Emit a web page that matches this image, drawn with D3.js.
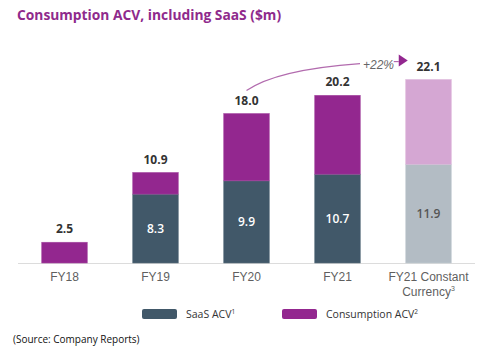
<!DOCTYPE html>
<html>
<head>
<meta charset="utf-8">
<script src="https://cdn.jsdelivr.net/npm/d3@7"></script>
<style>
  body { margin: 0; background: #fff; }
  svg { display: block; }
</style>
</head>
<body>
<div id="chart"></div>
<script>
// data
const categories = ["FY18", "FY19", "FY20", "FY21", "FY21 Constant Currency"];
const saasValues = [0, 8.3, 9.9, 10.7, 11.9];
const consumptionValues = [2.5, 2.6, 8.1, 9.5, 10.2];
const totalLabels = ["2.5", "10.9", "18.0", "20.2", "22.1"];
const saasLabels = ["", "8.3", "9.9", "10.7", "11.9"];
const growthLabel = "+22%";

const width = 493, height = 353;

const svg = d3.select("#chart")
  .append("svg")
  .attr("width", width)
  .attr("height", height);

// title
svg.append("text")
  .attr("x", 17).attr("y", 20)
  .attr("fill", "#8f2a8c")
  .style("font-family", "'Open Sans', sans-serif")
  .style("font-weight", 700)
  .style("font-size", "13.8px")
  .text("Consumption ACV, including SaaS ($m)");

const x = d3.scaleBand()
  .domain(categories)
  .range([19, 474])
  .paddingInner(0.5)
  .paddingOuter(0.25);

const y = d3.scaleLinear()
  .domain([0, 25])
  .range([263, 263 - 25 * 8.3]);

const rows = categories.map((c, i) => ({
  cat: c,
  saas: saasValues[i],
  cons: consumptionValues[i],
  total: saasValues[i] + consumptionValues[i],
  light: i === categories.length - 1
}));

// baseline
svg.append("line")
  .attr("x1", 18).attr("x2", 475)
  .attr("y1", y(0) + 0.5).attr("y2", y(0) + 0.5)
  .attr("stroke", "#dcdcdc");

const bars = svg.append("g");

// SaaS segments
bars.selectAll(".saas")
  .data(rows.filter(d => d.saas > 0))
  .enter().append("rect")
  .attr("class", "saas")
  .attr("x", d => x(d.cat))
  .attr("width", x.bandwidth())
  .attr("y", d => y(d.saas))
  .attr("height", d => y(0) - y(d.saas))
  .attr("fill", d => d.light ? "#b3bcc4" : "#415869")
  .attr("stroke", d => d.light ? "#c4ccd3" : "#5a6e7d")
  .attr("stroke-width", 0.6);

// Consumption segments
bars.selectAll(".cons")
  .data(rows)
  .enter().append("rect")
  .attr("class", "cons")
  .attr("x", d => x(d.cat))
  .attr("width", x.bandwidth())
  .attr("y", d => y(d.total))
  .attr("height", d => y(d.saas) - y(d.total))
  .attr("fill", d => d.light ? "#d5a7d3" : "#93278f")
  .attr("stroke", d => d.light ? "#dcb6da" : "#a3479f")
  .attr("stroke-width", 0.6);

// totals above bars
svg.selectAll(".total")
  .data(rows)
  .enter().append("text")
  .attr("x", d => x(d.cat) + x.bandwidth() / 2)
  .attr("y", (d, i) => y(d.total) - 9)
  .attr("text-anchor", "middle")
  .attr("fill", "#333")
  .style("font-family", "'Open Sans', sans-serif")
  .style("font-weight", 700)
  .style("font-size", "12px")
  .text((d, i) => totalLabels[i]);

// SaaS values inside bars
svg.selectAll(".inner")
  .data(rows)
  .enter().append("text")
  .attr("x", d => x(d.cat) + x.bandwidth() / 2)
  .attr("y", d => (y(0) + y(d.saas)) / 2 + 4.5)
  .attr("text-anchor", "middle")
  .attr("fill", d => d.light ? "#555" : "#fff")
  .style("font-family", "'Open Sans', sans-serif")
  .style("font-weight", 600)
  .style("font-size", "12px")
  .text((d, i) => saasLabels[i]);

// category labels
const catLabels = svg.selectAll(".cat")
  .data(rows)
  .enter().append("text")
  .attr("x", d => x(d.cat) + x.bandwidth() / 2)
  .attr("y", 281)
  .attr("text-anchor", "middle")
  .attr("fill", "#5f5f5f")
  .style("font-family", "'Liberation Sans', Arial, sans-serif")
  .style("font-size", "12px");

catLabels.each(function(d) {
  const t = d3.select(this);
  if (d.cat === "FY21 Constant Currency") {
    t.append("tspan").attr("x", x(d.cat) + x.bandwidth() / 2).text("FY21 Constant");
    t.append("tspan").attr("x", x(d.cat) + x.bandwidth() / 2).attr("dy", 14.5).text("Currency");
    t.append("tspan").attr("dy", -5).style("font-size", "7px").text("3");
  } else {
    t.text(d.cat);
  }
});

// growth arrow FY20 -> FY21 constant currency
const x0 = x("FY20") + x.bandwidth() / 2;
const y0 = y(18.0) - 23;
const x1 = 360, y1 = y(22.1) - 16;
svg.append("path")
  .attr("d", `M${x0},${y0} Q${x0 + 30},${y1 + 6} ${x1},${y1}`)
  .attr("fill", "none")
  .attr("stroke", "#b26bae")
  .attr("stroke-width", 1.2);

svg.append("text")
  .attr("x", 363).attr("y", y1 + 5)
  .attr("fill", "#666")
  .style("font-family", "'Liberation Sans', Arial, sans-serif")
  .style("font-style", "italic")
  .style("font-size", "12px")
  .text(growthLabel);

const tx = x("FY21 Constant Currency") - 7;
svg.append("line")
  .attr("x1", tx - 5).attr("x2", tx)
  .attr("y1", y1 - 2).attr("y2", y1 - 2)
  .attr("stroke", "#b26bae").attr("stroke-width", 1.2);
svg.append("path")
  .attr("d", `M${tx},${y1 - 9} L${tx + 9},${y1 - 3} L${tx},${y1 + 3} Z`)
  .attr("fill", "#93278f");

// legend
const legend = [
  { name: "SaaS ACV", sup: "1", color: "#415869", x: 142 },
  { name: "Consumption ACV", sup: "2", color: "#93278f", x: 282 }
];
const lg = svg.selectAll(".legend")
  .data(legend)
  .enter().append("g")
  .attr("transform", d => `translate(${d.x},309)`);
lg.append("rect")
  .attr("width", 35).attr("height", 10).attr("rx", 2)
  .attr("fill", d => d.color);
const lt = lg.append("text")
  .attr("x", 44).attr("y", 9)
  .attr("fill", "#333")
  .style("font-family", "'Open Sans', sans-serif")
  .style("font-size", "10.5px");
lt.append("tspan").text(d => d.name);
lt.append("tspan").attr("dy", -4).style("font-size", "6.5px").text(d => d.sup);

// source note
svg.append("text")
  .attr("x", 13).attr("y", 343)
  .attr("fill", "#111")
  .style("font-family", "'Open Sans', sans-serif")
  .style("font-size", "10px")
  .text("(Source: Company Reports)");
</script>
</body>
</html>
